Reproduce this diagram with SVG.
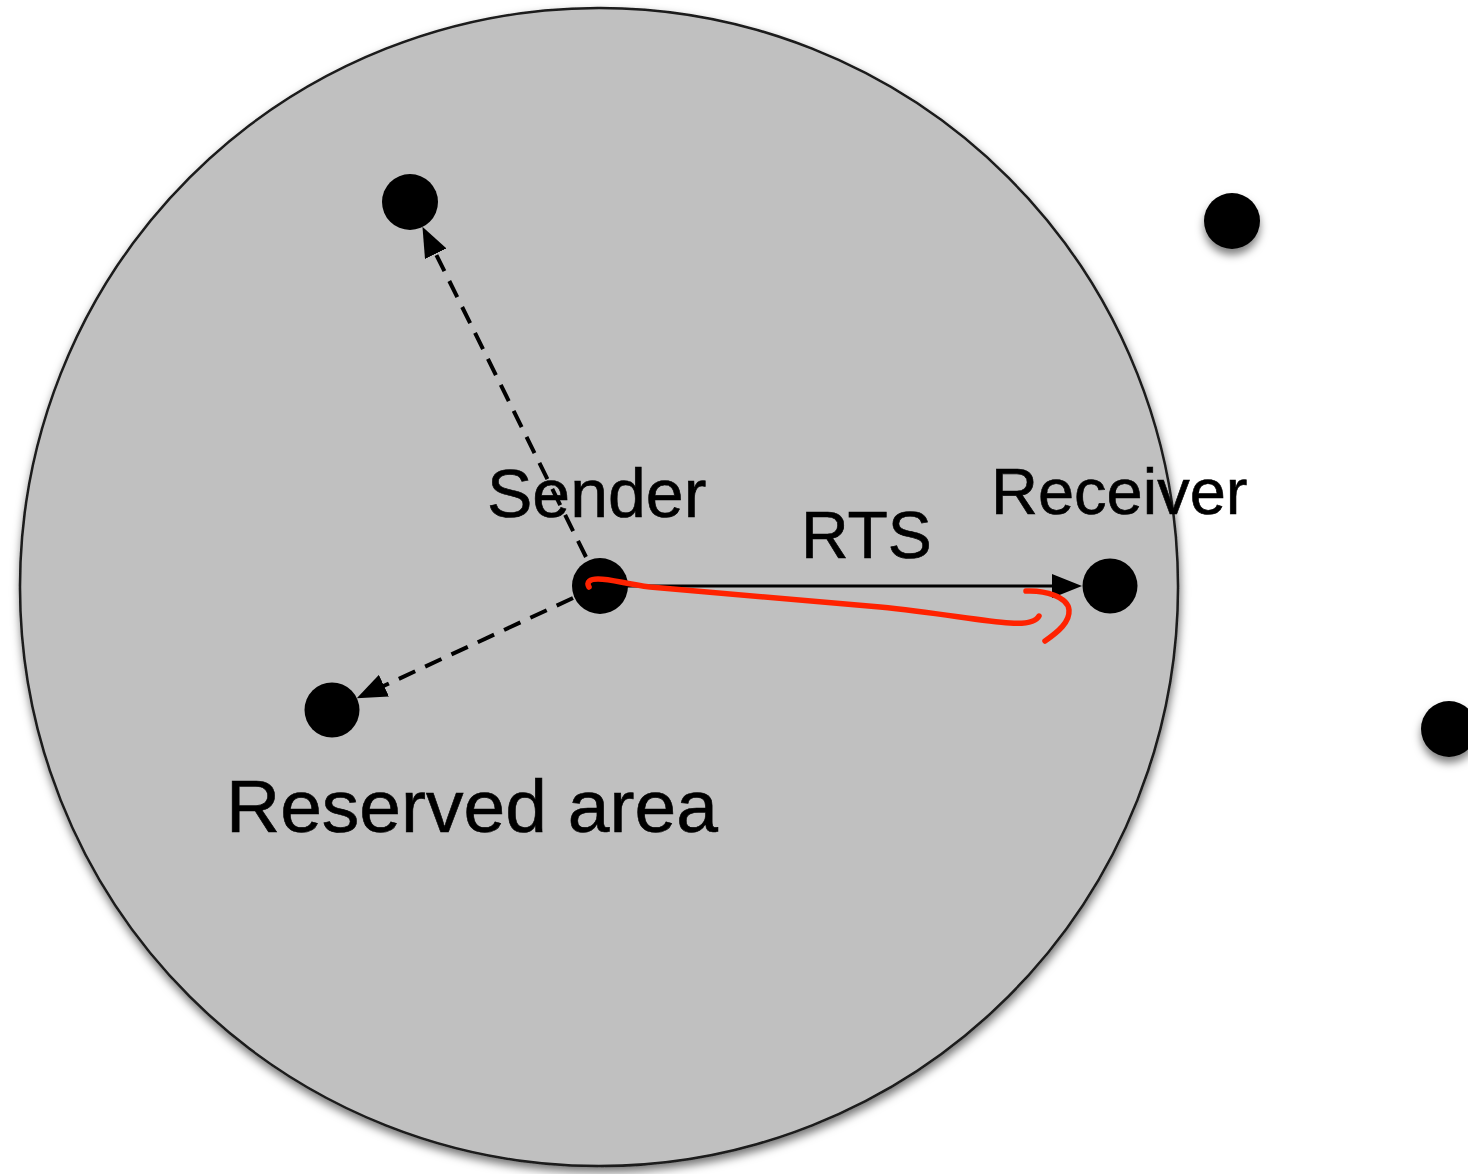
<svg xmlns="http://www.w3.org/2000/svg" width="1468" height="1174" viewBox="0 0 1468 1174">
  <defs>
    <filter id="shadow" x="-20%" y="-20%" width="140%" height="140%">
      <feDropShadow dx="1" dy="5" stdDeviation="5" flood-color="#000" flood-opacity="0.55"/>
    </filter>
    <filter id="dotShadow" x="-60%" y="-60%" width="220%" height="220%">
      <feDropShadow dx="0" dy="6" stdDeviation="4" flood-color="#000" flood-opacity="0.5"/>
    </filter>
    <marker id="arrow" viewBox="0 0 30 24" markerWidth="30" markerHeight="24" refX="22" refY="12" orient="auto" markerUnits="userSpaceOnUse">
      <path d="M0,0 L30,12 L0,24 Z" fill="#000"/>
    </marker>
    <style>
      .node { fill: #000; }
      .solid { fill: none; stroke: #000; stroke-width: 3; }
      .dashed { fill: none; stroke: #000; stroke-width: 4; stroke-dasharray: 18 11; }
      .label { font-family: "Liberation Sans", Arial, sans-serif; fill: #000; stroke: #000; stroke-width: 0.6; }
      .mark { fill: none; stroke: #ff2200; stroke-width: 5.5; stroke-linecap: round; stroke-linejoin: round; }
    </style>
  </defs>

  <rect width="1468" height="1174" fill="#fff"/>

  <!-- transmission range -->
  <g id="range">
    <circle cx="599" cy="587" r="579" fill="#c0c0c0" stroke="#1a1a1a" stroke-width="2.5" filter="url(#shadow)"/>
  </g>

  <!-- connectors -->
  <g id="connectors">
    <path class="dashed" d="M586,557 L426,234" marker-end="url(#arrow)"/>
    <path class="dashed" d="M573,598 L364,695" marker-end="url(#arrow)"/>
    <path class="solid" d="M627,586 L1074,586" marker-end="url(#arrow)"/>
  </g>

  <!-- nodes -->
  <g id="node-top"><circle class="node" cx="410" cy="202" r="28"/></g>
  <g id="node-sender"><circle class="node" cx="600" cy="586" r="28"/></g>
  <g id="node-receiver"><circle class="node" cx="1110" cy="586" r="27.5"/></g>
  <g id="node-reserved"><circle class="node" cx="332" cy="710" r="27.5"/></g>
  <g id="node-outside-1"><circle class="node" cx="1232" cy="221" r="28" filter="url(#dotShadow)"/></g>
  <g id="node-outside-2"><circle class="node" cx="1449" cy="729" r="28" filter="url(#dotShadow)"/></g>

  <!-- labels -->
  <g id="labels">
    <text class="label" x="487" y="517" font-size="68">Sender</text>
    <text class="label" x="801" y="558" font-size="66">RTS</text>
    <text class="label" x="991" y="514" font-size="65">Receiver</text>
    <text class="label" x="226" y="832" font-size="75">Reserved area</text>
  </g>

  <!-- hand-drawn annotation -->
  <g id="annotation">
    <path class="mark" d="M589,587 C586,582 590,579 598,579 C612,579 625,584 650,587 C720,593 800,600 880,607 C940,613 980,621 1010,623 C1025,624 1036,622 1039,616"/>
    <path class="mark" d="M1026,591 C1045,590 1068,597 1069,610 C1070,622 1058,632 1045,641"/>
  </g>
</svg>
